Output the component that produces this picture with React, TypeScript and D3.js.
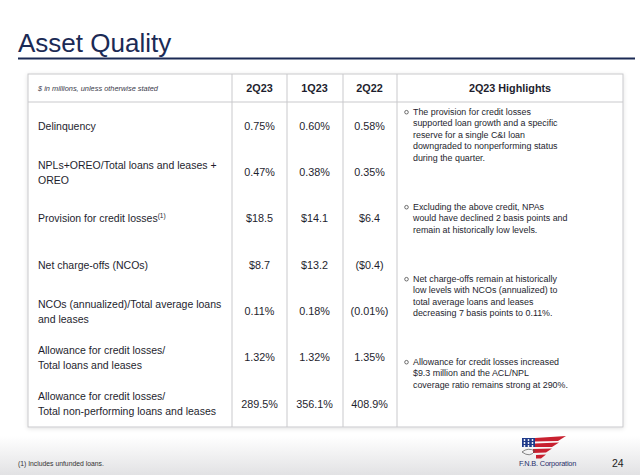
import React from "react";
import * as d3 from "d3";

const periods = ["2Q23", "1Q23", "2Q22"];
const rowLabels: string[][] = [
  ["Delinquency"],
  ["NPLs+OREO/Total loans and leases +", "OREO"],
  ["Provision for credit losses"],
  ["Net charge-offs (NCOs)"],
  ["NCOs (annualized)/Total average loans", "and leases"],
  ["Allowance for credit losses/", "Total loans and leases"],
  ["Allowance for credit losses/", "Total non-performing loans and leases"],
];
const superscripts = ["", "", "(1)", "", "", "", ""];
const values2Q23 = ["0.75%", "0.47%", "$18.5", "$8.7", "0.11%", "1.32%", "289.5%"];
const values1Q23 = ["0.60%", "0.38%", "$14.1", "$13.2", "0.18%", "1.32%", "356.1%"];
const values2Q22 = ["0.58%", "0.35%", "$6.4", "($0.4)", "(0.01%)", "1.35%", "408.9%"];
const highlights: string[][] = [
  [
    "The provision for credit losses",
    "supported loan growth and a specific",
    "reserve for a single C&I loan",
    "downgraded to nonperforming status",
    "during the quarter.",
  ],
  [
    "Excluding the above credit, NPAs",
    "would have declined 2 basis points and",
    "remain at historically low levels.",
  ],
  [
    "Net charge-offs remain at historically",
    "low levels with NCOs (annualized) to",
    "total average loans and leases",
    "decreasing 7 basis points to 0.11%.",
  ],
  [
    "Allowance for credit losses increased",
    "$9.3 million and the ACL/NPL",
    "coverage ratio remains strong at 290%.",
  ],
];
const highlightTops = [115, 210, 282, 365];

const W = 640;
const H = 475;
const FONT = "'Liberation Sans', Arial, sans-serif";
const NAVY = "#1b2a55";
const TEXT = "#1e1e2e";
const GRID = "#c9c9cc";

export default function App() {
  const tableLeft = 28;
  const tableRight = 623;
  const tableTop = 74;
  const headerBottom = 102;
  const tableBottom = 427;
  const colEdges = [tableLeft, 232, 287, 343, 397, tableRight];

  const colX = d3
    .scaleBand<string>()
    .domain(periods)
    .range([colEdges[1], colEdges[4]]);

  const rowY = d3
    .scalePoint<number>()
    .domain(d3.range(rowLabels.length))
    .range([126, 404]);

  const valueCols = [values2Q23, values1Q23, values2Q22];
  const lh = 15;
  const hlLh = 11.4;

  return (
    <svg
      width={W}
      height={H}
      style={{ position: "absolute", left: 0, top: 0, background: "#fff" }}
      fontFamily={FONT}
    >
      <defs>
        <linearGradient id="foot" x1="0" y1="0" x2="0" y2="1">
          <stop offset="0" stopColor="#ffffff" />
          <stop offset="1" stopColor="#e2e2e4" />
        </linearGradient>
        <filter id="shadow" x="-5%" y="-5%" width="110%" height="110%">
          <feDropShadow dx="0" dy="1" stdDeviation="2" floodColor="#000" floodOpacity="0.12" />
        </filter>
      </defs>
      <rect x={0} y={0} width={W} height={H} fill="#fff" />
      <rect x={0} y={436} width={W} height={39} fill="url(#foot)" />

      {/* Title */}
      <text x={18} y={52} fontSize={26} fill={NAVY}>
        Asset Quality
      </text>
      <line x1={18} x2={635} y1={58.5} y2={58.5} stroke={NAVY} strokeWidth={2} />

      {/* Table frame */}
      <rect
        x={tableLeft}
        y={tableTop}
        width={tableRight - tableLeft}
        height={tableBottom - tableTop}
        fill="#fff"
        stroke={GRID}
        strokeWidth={1}
        filter="url(#shadow)"
      />
      <line x1={tableLeft} x2={tableRight} y1={headerBottom} y2={headerBottom} stroke={GRID} strokeWidth={1} />
      {colEdges.slice(1, 5).map((x, i) => (
        <line key={i} x1={x} x2={x} y1={tableTop} y2={tableBottom} stroke={GRID} strokeWidth={1} />
      ))}

      {/* Header */}
      <text x={38} y={91} fontSize={7.4} fontStyle="italic" fill="#3a3a4a">
        $ in millions, unless otherwise stated
      </text>
      {periods.map((p) => (
        <text
          key={p}
          x={(colX(p) as number) + colX.bandwidth() / 2}
          y={92}
          fontSize={10.8}
          fontWeight="bold"
          textAnchor="middle"
          fill={TEXT}
        >
          {p}
        </text>
      ))}
      <text x={(colEdges[4] + colEdges[5]) / 2} y={92} fontSize={10.8} fontWeight="bold" textAnchor="middle" fill={TEXT}>
        2Q23 Highlights
      </text>

      {/* Row labels */}
      {rowLabels.map((lines, i) => {
        const cy = rowY(i) as number;
        const start = cy - ((lines.length - 1) * lh) / 2;
        return (
          <text key={i} fontSize={10.5} fill={TEXT}>
            {lines.map((l, j) => (
              <tspan key={j} x={38} y={start + j * lh + 3.7}>
                {l}
                {j === lines.length - 1 && superscripts[i] ? (
                  <tspan fontSize={6.5} dy={-4.5}>
                    {superscripts[i]}
                  </tspan>
                ) : null}
              </tspan>
            ))}
          </text>
        );
      })}

      {/* Values */}
      {valueCols.map((vals, c) =>
        vals.map((v, i) => (
          <text
            key={`${c}-${i}`}
            x={(colX(periods[c]) as number) + colX.bandwidth() / 2}
            y={(rowY(i) as number) + 3.8}
            fontSize={10.8}
            textAnchor="middle"
            fill={TEXT}
          >
            {v}
          </text>
        ))
      )}

      {/* Highlights */}
      {highlights.map((lines, i) => (
        <g key={i}>
          <circle cx={406.5} cy={highlightTops[i] - 2.8} r={1.8} fill="none" stroke="#333" strokeWidth={0.7} />
          <text fontSize={8.9} fill={TEXT}>
            {lines.map((l, j) => (
              <tspan key={j} x={413} y={highlightTops[i] + j * hlLh}>
                {l}
              </tspan>
            ))}
          </text>
        </g>
      ))}

      {/* Footer */}
      <text x={18} y={466} fontSize={6.8} fill="#333">
        (1) Includes unfunded loans.
      </text>
      <text x={612} y={467} fontSize={10.5} fill="#222">
        24
      </text>

      {/* Logo */}
      <g>
        <rect x={522} y={438} width={13} height={9} fill="#1f3a8a" />
        {[0, 1, 2].map((r) =>
          [0, 1, 2].map((c) => (
            <circle key={`${r}${c}`} cx={524.5 + c * 4} cy={440 + r * 3} r={0.9} fill="#fff" />
          ))
        )}
        <path d="M535,438 L566,436 L558,441 L535,441.5 Z" fill="#c8202f" />
        <path d="M535,443.5 L559,442.5 L552,447 L535,447 Z" fill="#c8202f" />
        <path d="M533,449 L552,448.5 L546,452.5 L533,453 Z" fill="#c8202f" />
        <path d="M536,455 L546,454.5 L541,458.5 L536,458.5 Z" fill="#c8202f" />
        <path d="M522,452 Q528,447 535,451 Q530,458 522,452 Z" fill="none" stroke="#555" strokeWidth={0.7} />
        <text x={519} y={466} fontSize={7.4} fill="#1f2f6a" letterSpacing={-0.2}>
          F.N.B. Corporation
        </text>
      </g>
    </svg>
  );
}
